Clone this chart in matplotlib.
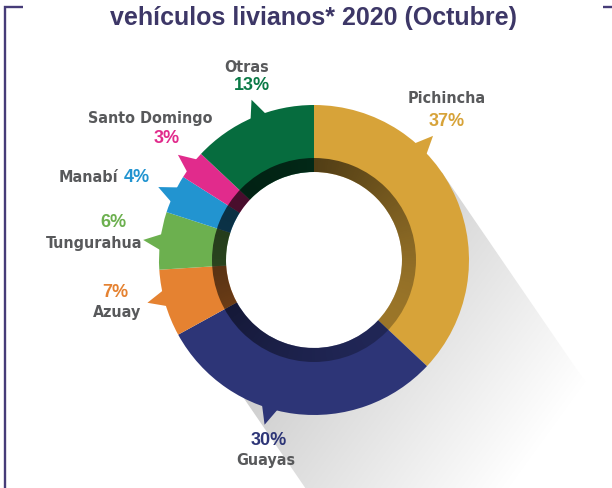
import numpy as np
import matplotlib
matplotlib.use('Agg')
import matplotlib.pyplot as plt
from matplotlib.patches import Polygon, Circle, Wedge
from matplotlib import font_manager as fm

# ---------------- data ----------------
categories = ['Pichincha', 'Guayas', 'Azuay', 'Tungurahua', 'Manabí', 'Santo Domingo', 'Otras']
shares = [37, 30, 7, 6, 4, 3, 13]
pct_labels = ['37%', '30%', '7%', '6%', '4%', '3%', '13%']
title = 'vehículos livianos* 2020 (Octubre)'

# ---------------- style ----------------
colors = ['#D7A339', '#2D3577', '#E58231', '#6CB04F', '#2294D0', '#E12B8C', '#066C3E']
pct_colors = ['#D7A339', '#2D3577', '#E58231', '#6CB04F', '#2294D0', '#E12B8C', '#0B7A47']
name_color = '#58595B'
frame_color = '#463C78'
title_color = '#3D3767'

W, H = 612, 488
fig = plt.figure(figsize=(W / 100, H / 100), dpi=100)
ax = fig.add_axes([0, 0, 1, 1])


def Y(ypix):
    return H - ypix


cx, cy = 314, Y(260)
R_out, R_in, R_band = 155, 88, 102

# ---------------- long shadow ----------------
ang = np.deg2rad(-55.6)
d = np.array([np.cos(ang), np.sin(ang)])
n = np.array([-d[1], d[0]])
C = np.array([cx, cy])
P1 = C + 155 * n
P4 = C - 136 * n
P2 = P1 + 800 * d
P3 = P4 + 800 * d
shadow_poly = Polygon([P1, P2, P3, P4], closed=True, transform=ax.transData)

xs = np.arange(W) + 0.5
ys = np.arange(H) + 0.5
XX, YY = np.meshgrid(xs, ys)
G = np.clip(0.50 + 0.00058 * XX + 0.00042 * YY, 0, 1)
rgb = np.dstack([G, G, G])
im = ax.imshow(rgb, extent=(0, W, 0, H), origin='upper', zorder=0,
               interpolation='bilinear')
im.set_clip_path(shadow_poly)

ax.add_patch(Circle((cx, cy), R_in, fc='white', ec='none', zorder=1))

# ---------------- donut ----------------
wedges, _ = ax.pie(shares, colors=colors, startangle=90, counterclock=False,
                   radius=R_out, center=(cx, cy), frame=True,
                   wedgeprops=dict(width=R_out - R_in, linewidth=0, zorder=2))

# speech-bubble tails
tail_deg = [46.2, -106.7, 194.4, 173.3, 154.9, 142.3, 111.3]
for a, col in zip(tail_deg, colors):
    pts = []
    for aa, rr in [(a - 3.6, R_out - 4), (a, 172), (a + 3.6, R_out - 4)]:
        t = np.deg2rad(aa)
        pts.append((cx + rr * np.cos(t), cy + rr * np.sin(t)))
    ax.add_patch(Polygon(pts, closed=True, fc=col, ec='none', zorder=2))

# inner dark band with angular gradient
bx = np.linspace(cx - R_band, cx + R_band, 300)
by = np.linspace(cy + R_band, cy - R_band, 300)
BX, BY = np.meshgrid(bx, by)
theta = np.arctan2(BY - cy, BX - cx)
alpha = np.clip(0.48 + 0.2 * np.cos(theta - np.deg2rad(135)), 0, 1)
band = np.zeros((300, 300, 4))
band[..., 3] = alpha
bim = ax.imshow(band, extent=(cx - R_band, cx + R_band, cy - R_band, cy + R_band),
                origin='upper', zorder=3, interpolation='bilinear')
bim.set_clip_path(Wedge((cx, cy), R_band, 0, 360, width=R_band - R_in,
                        transform=ax.transData))

# ---------------- labels ----------------
cond = [f for f in fm.fontManager.ttflist
        if ('Condensed' in f.fname or 'Narrow' in f.fname) and f.weight in ('bold', 700)]
name_size = 11.5

# (x, y, ha) for name and percent
name_pos = [(447, 103, 'center'), (266, 465, 'center'), (117, 317, 'center'),
            (94.5, 248, 'center'), (118, 182, 'right'), (150, 123, 'center'),
            (247, 72, 'center')]
pct_pos = [(447, 126, 'center'), (269, 445, 'center'), (115, 297, 'center'),
           (113, 227, 'center'), (124, 182, 'left'), (167, 143, 'center'),
           (252, 90, 'center')]
pct_font = ['Liberation Sans', 'DejaVu Sans']
for cat, pl, pc, (nx, ny, nha), (px, py, pha) in zip(categories, pct_labels, pct_colors,
                                                     name_pos, pct_pos):
    if cond:
        fp = fm.FontProperties(fname=cond[0].fname, size=name_size)
        ax.text(nx, Y(ny), cat, ha=nha, va='baseline', fontproperties=fp,
                color=name_color, zorder=5)
    else:
        ax.text(nx, Y(ny), cat, ha=nha, va='baseline', fontsize=10.5,
                fontweight='bold', color=name_color,
                family=['Liberation Sans', 'DejaVu Sans'], zorder=5)
    ax.text(px, Y(py), pl, ha=pha, va='baseline', fontsize=13,
            fontweight='bold', color=pc, family=pct_font, zorder=5)

# ---------------- title & frame ----------------
ax.text(313, Y(25), title, ha='center', va='baseline', fontsize=18,
        fontweight='bold', color=title_color, family=['Liberation Sans', 'DejaVu Sans'])
ax.plot([4.5, 4.5, 22.5], [Y(490), Y(6.5), Y(6.5)], color=frame_color, lw=1.7,
        solid_capstyle='butt', solid_joinstyle='miter')
ax.plot([603, 614], [Y(6.5), Y(6.5)], color=frame_color, lw=1.7, solid_capstyle='butt')

ax.set_xlim(0, W)
ax.set_ylim(0, H)
ax.set_aspect('auto')
ax.axis('off')
fig.savefig('out.png', dpi=100)
